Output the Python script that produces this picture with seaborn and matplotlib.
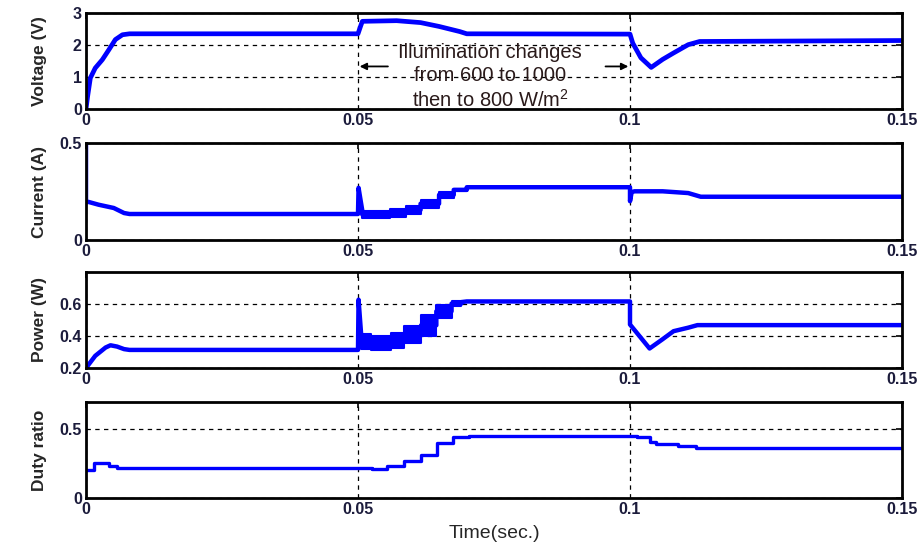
import numpy as np
import pandas as pd
import matplotlib
matplotlib.use("Agg")
import matplotlib.pyplot as plt
import seaborn as sns

# ---------------- data ----------------
x_ticks = [0, 0.05, 0.1, 0.15]
x_tick_labels = ["0", "0.05", "0.1", "0.15"]

# Voltage (V)
volt_t = [0, 0.0003, 0.0008, 0.0017, 0.003, 0.0042, 0.0054, 0.0067, 0.008,
          0.05, 0.0505, 0.0508, 0.0571, 0.0615, 0.0649, 0.0687, 0.070,
          0.1, 0.1005, 0.102, 0.1039, 0.106, 0.108, 0.1107, 0.1128, 0.15]
volt_v = [0, 0.4, 0.97, 1.28, 1.54, 1.85, 2.17, 2.32, 2.35,
          2.35, 2.6, 2.74, 2.76, 2.70, 2.58, 2.42, 2.35,
          2.34, 2.06, 1.6, 1.30, 1.55, 1.75, 2.01, 2.11, 2.14]

# Current (A)
cur_pre_t = [0, 0, 0.0005, 0.0023, 0.0051, 0.007, 0.008, 0.05, 0.0501, 0.0508]
cur_pre_v = [0.5, 0.196, 0.196, 0.182, 0.165, 0.139, 0.134, 0.134, 0.269, 0.15]
cur_band_t = [0.0508, 0.0558, 0.0588, 0.0615, 0.0649, 0.0676, 0.070]
cur_band_hi = [0.150, 0.158, 0.175, 0.207, 0.246, 0.263, 0.263]
cur_band_lo = [0.111, 0.118, 0.135, 0.167, 0.219, 0.254, 0.254]
cur_post_t = [0.070, 0.1, 0.1, 0.1003, 0.1008, 0.106, 0.1107, 0.113, 0.15]
cur_post_v = [0.272, 0.272, 0.20, 0.246, 0.251, 0.251, 0.242, 0.223, 0.223]

# Power (W)
pow_pre_t = [0, 0.0017, 0.0036, 0.0045, 0.0057, 0.007, 0.008, 0.05, 0.0501, 0.0506]
pow_pre_v = [0.2, 0.276, 0.328, 0.342, 0.334, 0.318, 0.313, 0.313, 0.627, 0.40]
pow_band_t = [0.0506, 0.0524, 0.056, 0.0585, 0.0616, 0.0644, 0.0672, 0.069]
pow_band_hi = [0.41, 0.40, 0.42, 0.462, 0.534, 0.596, 0.62, 0.62]
pow_band_lo = [0.32, 0.31, 0.325, 0.355, 0.40, 0.513, 0.585, 0.585]
pow_post_t = [0.069, 0.070, 0.1, 0.1, 0.1036, 0.106, 0.108, 0.1107, 0.1124, 0.15]
pow_post_v = [0.612, 0.616, 0.616, 0.472, 0.322, 0.38, 0.43, 0.452, 0.468, 0.468]

# Duty ratio (steps)
duty_t = [0, 0.0014, 0.0042, 0.0057, 0.0525, 0.0554, 0.0585, 0.0615, 0.0646,
          0.0675, 0.0704, 0.1012, 0.1036, 0.1047, 0.1088, 0.1122, 0.15]
duty_v = [0.205, 0.258, 0.234, 0.222, 0.210, 0.234, 0.268, 0.314, 0.399,
          0.442, 0.454, 0.442, 0.411, 0.391, 0.379, 0.367, 0.367]

# ---------------- helpers ----------------
def band_trace(bt, lo, hi):
    t, v = [], []
    for i in range(len(bt) - 1):
        c = (lo[i] + hi[i]) / 2
        t += [bt[i], bt[i + 1]]
        v += [c, c]
    return t, v

def make_df(*pieces):
    ts, vs = [], []
    for t, v in pieces:
        ts += list(t)
        vs += list(v)
    return pd.DataFrame({"t": ts, "v": vs})

volt_df = make_df((volt_t, volt_v))
cur_df = make_df((cur_pre_t, cur_pre_v), band_trace(cur_band_t, cur_band_lo, cur_band_hi),
                 (cur_post_t, cur_post_v))
pow_df = make_df((pow_pre_t, pow_pre_v), band_trace(pow_band_t, pow_band_lo, pow_band_hi),
                 (pow_post_t, pow_post_v))
duty_df = make_df((duty_t, duty_v))

# ---------------- style ----------------
sns.set_style("white")
plt.rcParams["font.family"] = ["Liberation Sans", "DejaVu Sans"]

W, H = 919, 545
fig = plt.figure(figsize=(W / 100, H / 100), dpi=100)

left, right = 86 / W, 902 / W
panels = [(13, 109), (143, 240), (272, 368), (402, 498)]
axes = []
for top, bot in panels:
    ax = fig.add_axes([left, 1 - bot / H, right - left, (bot - top) / H])
    axes.append(ax)

BLUE = "#0000ff"
TICKC = "#1c1c3c"

specs = [
    (volt_df, "Voltage (V)", (0, 3), [0, 1, 2, 3], ["0", "1", "2", "3"], 3.4, None),
    (cur_df, "Current (A)", (0, 0.5), [0, 0.5], ["0", "0.5"], 3.2,
     (cur_band_t, cur_band_lo, cur_band_hi)),
    (pow_df, "Power (W)", (0.2, 0.8), [0.2, 0.4, 0.6], ["0.2", "0.4", "0.6"], 3.2,
     (pow_band_t, pow_band_lo, pow_band_hi)),
    (duty_df, "Duty ratio", (0, 0.7), [0, 0.5], ["0", "0.5"], 2.4, None),
]

for i, (ax, (df, ylab, ylim, yt, ytl, lw, band)) in enumerate(zip(axes, specs)):
    if i == 3:
        sns.lineplot(data=df, x="t", y="v", ax=ax, color=BLUE, lw=lw,
                     estimator=None, sort=False, drawstyle="steps-post")
    else:
        sns.lineplot(data=df, x="t", y="v", ax=ax, color=BLUE, lw=lw,
                     estimator=None, sort=False)
    if band is not None:
        bt, lo, hi = band
        ax.fill_between(bt, lo, hi, step="post", color=BLUE, lw=1.5, edgecolor=BLUE)
    ax.set_xlim(0, 0.15)
    ax.set_ylim(*ylim)
    ax.set_xticks(x_ticks)
    ax.set_xticklabels(x_tick_labels, fontsize=11.5, fontweight="bold", color=TICKC)
    ax.set_yticks(yt)
    ax.set_yticklabels(ytl, fontsize=11.5, fontweight="bold", color=TICKC)
    ax.tick_params(direction="in", length=4, width=1.2, top=True, right=True,
                   pad=3, colors="black", labelcolor=TICKC)
    ax.grid(True, linestyle=(0, (3.5, 3.5)), color="black", lw=0.9)
    for s in ax.spines.values():
        s.set_visible(True)
        s.set_color("black")
        s.set_linewidth(2)
    ax.set_xlabel("")
    ax.set_ylabel(ylab, fontsize=12.5, fontweight="bold")
    ax.yaxis.set_label_coords(-0.048, 0.5)

axes[3].set_xlabel("Time(sec.)", fontsize=14, labelpad=6)

# annotation on voltage panel
ax0 = axes[0]
txtc = "#2a1a1a"
ax0.text(0.0743, 1.75, "Illumination changes", ha="center", va="center",
         fontsize=14.5, color=txtc)
ax0.text(0.0743, 1.06, "from 600 to 1000", ha="center", va="center",
         fontsize=14.5, color=txtc)
ax0.text(0.0743, 0.30, r"then to 800 W/m$^{\mathregular{2}}$", ha="center", va="center",
         fontsize=14.5, color=txtc)
ax0.annotate("", xy=(0.0503, 1.33), xytext=(0.0555, 1.33),
             arrowprops=dict(arrowstyle="-|>", color="black", lw=1.3,
                             mutation_scale=10, shrinkA=0, shrinkB=0))
ax0.annotate("", xy=(0.0997, 1.33), xytext=(0.0955, 1.33),
             arrowprops=dict(arrowstyle="-|>", color="black", lw=1.3,
                             mutation_scale=10, shrinkA=0, shrinkB=0))

fig.savefig("out.png", dpi=100)
